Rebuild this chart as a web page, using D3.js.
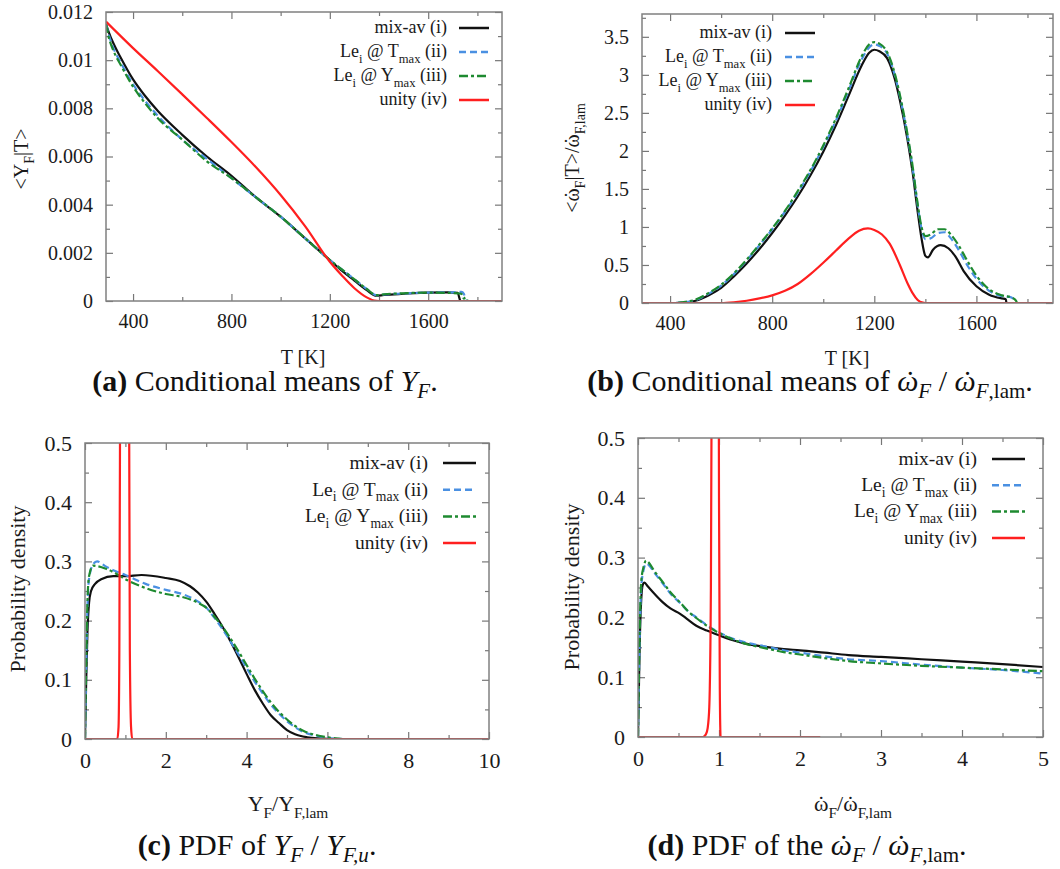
<!DOCTYPE html>
<html>
<head>
<meta charset="utf-8">
<script src="https://cdn.jsdelivr.net/npm/d3@7"></script>
<style>
  body { margin: 0; background: #fff; }
  svg, svg text { font-family: "Liberation Serif", "Times New Roman", serif; }
</style>
</head>
<body>
<svg id="fig" width="1060" height="869"></svg>
<script>
// ---- panel (a): <Y_F|T> vs T
var aMix = [[290,0.0115],[300,0.0112],[320,0.0107],[350,0.0101],[400,0.0092],[450,0.0085],[500,0.0079],[600,0.0069],[700,0.0060],[800,0.0052],[900,0.0043],[1000,0.0035],[1100,0.0026],[1200,0.0017],[1250,0.00125],[1300,0.00085],[1350,0.00045],[1390,0.00022],[1420,0.00025],[1500,0.0003],[1600,0.00035],[1680,0.00036],[1720,0.00034],[1726,0.00015],[1730,0]];
var aTmax = [[290,0.0115],[300,0.0111],[320,0.0105],[350,0.0099],[400,0.009],[450,0.0083],[500,0.0077],[600,0.0067],[700,0.0059],[800,0.0051],[900,0.0043],[1000,0.0035],[1100,0.0026],[1200,0.0017],[1250,0.0013],[1300,0.0009],[1350,0.0005],[1390,0.00024],[1420,0.00027],[1500,0.00031],[1600,0.00035],[1700,0.00036],[1735,0.00038],[1745,0.0003],[1750,0.0001],[1755,0]];
var aYmax = [[290,0.0115],[300,0.011],[320,0.0104],[350,0.0098],[400,0.0089],[450,0.0082],[500,0.0076],[600,0.0067],[700,0.0058],[800,0.0051],[900,0.0043],[1000,0.0035],[1100,0.0026],[1200,0.0017],[1250,0.0013],[1300,0.0009],[1350,0.0005],[1390,0.00024],[1420,0.00028],[1500,0.00032],[1600,0.00035],[1700,0.00033],[1735,0.0003],[1745,0.0001],[1752,0.00015],[1760,0]];
var aUnity = [[290,0.0116],[400,0.0105],[500,0.00955],[600,0.00858],[700,0.0076],[800,0.0066],[900,0.00555],[1000,0.0044],[1100,0.0031],[1200,0.00163],[1250,0.00105],[1300,0.00053],[1350,0.00015],[1380,0.00002],[1400,0],[1900,0]];

// ---- panel (b): <w_F|T>/w_F,lam vs T
var bMix = [[290,0],[420,0],[450,0.005],[500,0.03],[550,0.1],[600,0.2],[650,0.35],[700,0.52],[750,0.71],[800,0.92],[850,1.15],[900,1.4],[950,1.68],[1000,1.99],[1050,2.34],[1100,2.73],[1150,3.12],[1180,3.29],[1200,3.33],[1220,3.31],[1250,3.22],[1280,2.95],[1300,2.67],[1330,2.15],[1350,1.72],[1370,1.2],[1385,0.85],[1400,0.62],[1410,0.6],[1430,0.7],[1460,0.76],[1490,0.72],[1520,0.6],[1550,0.42],[1600,0.22],[1650,0.11],[1700,0.06],[1715,0.05],[1718,0],[1900,0]];
var bTmax = [[290,0],[420,0],[450,0.008],[500,0.04],[550,0.12],[600,0.23],[650,0.38],[700,0.56],[750,0.76],[800,0.97],[850,1.2],[900,1.45],[950,1.73],[1000,2.05],[1050,2.4],[1100,2.8],[1150,3.2],[1180,3.36],[1200,3.4],[1220,3.38],[1250,3.28],[1280,3.0],[1300,2.72],[1330,2.2],[1350,1.78],[1370,1.28],[1385,0.98],[1400,0.84],[1420,0.85],[1450,0.92],[1475,0.93],[1500,0.85],[1530,0.7],[1560,0.52],[1600,0.32],[1650,0.16],[1700,0.09],[1730,0.08],[1745,0.05],[1750,0],[1900,0]];
var bYmax = [[290,0],[420,0],[450,0.01],[500,0.045],[550,0.13],[600,0.24],[650,0.39],[700,0.57],[750,0.77],[800,0.98],[850,1.21],[900,1.47],[950,1.75],[1000,2.07],[1050,2.43],[1100,2.83],[1150,3.24],[1180,3.4],[1200,3.43],[1220,3.41],[1250,3.3],[1280,3.02],[1300,2.74],[1330,2.22],[1350,1.8],[1370,1.3],[1385,1.0],[1400,0.88],[1420,0.9],[1450,0.97],[1475,0.97],[1500,0.9],[1530,0.76],[1560,0.58],[1600,0.36],[1650,0.18],[1700,0.1],[1740,0.07],[1755,0.03],[1760,0],[1900,0]];
var bUnity = [[290,0],[600,0],[650,0.01],[700,0.03],[750,0.06],[800,0.1],[850,0.16],[900,0.25],[950,0.38],[1000,0.53],[1050,0.69],[1100,0.85],[1140,0.95],[1175,0.98],[1200,0.96],[1230,0.9],[1260,0.78],[1300,0.5],[1330,0.26],[1350,0.13],[1370,0.04],[1390,0.005],[1400,0],[1900,0]];

// ---- panel (c): PDF of Y_F/Y_F,lam
var cMix = [[0,0],[0.03,0.1],[0.06,0.18],[0.1,0.23],[0.15,0.25],[0.25,0.262],[0.4,0.27],[0.7,0.275],[1.0,0.275],[1.4,0.277],[2.0,0.272],[2.35,0.267],[2.6,0.258],[2.8,0.247],[3.0,0.232],[3.2,0.212],[3.4,0.19],[3.6,0.165],[3.8,0.138],[4.0,0.11],[4.2,0.083],[4.4,0.06],[4.6,0.04],[4.8,0.027],[5.0,0.015],[5.2,0.008],[5.5,0.003],[5.8,0.001],[6.2,0],[10,0]];
var cTmax = [[0,0],[0.03,0.12],[0.06,0.22],[0.1,0.27],[0.2,0.295],[0.3,0.3],[0.5,0.292],[0.7,0.285],[1.0,0.277],[1.5,0.262],[2.0,0.252],[2.4,0.245],[2.8,0.232],[3.0,0.222],[3.2,0.205],[3.4,0.186],[3.6,0.165],[3.8,0.143],[4.0,0.12],[4.2,0.097],[4.4,0.077],[4.6,0.058],[4.8,0.043],[5.0,0.03],[5.2,0.02],[5.4,0.012],[5.7,0.006],[6.0,0.002],[6.4,0],[10,0]];
var cYmax = [[0,0],[0.03,0.13],[0.06,0.23],[0.1,0.275],[0.2,0.293],[0.3,0.292],[0.5,0.288],[0.7,0.282],[1.0,0.27],[1.5,0.255],[2.0,0.245],[2.4,0.24],[2.8,0.23],[3.0,0.222],[3.2,0.207],[3.4,0.19],[3.6,0.17],[3.8,0.148],[4.0,0.125],[4.2,0.102],[4.4,0.081],[4.6,0.062],[4.8,0.046],[5.0,0.033],[5.2,0.022],[5.4,0.014],[5.7,0.007],[6.0,0.003],[6.4,0],[10,0]];
var cUnity = [[0,0],[0.8,0],[0.83,0.02],[0.85,0.15],[0.87,0.6],[0.95,3],[1.05,3],[1.09,0.6],[1.11,0.15],[1.14,0.02],[1.17,0],[10,0]];

// ---- panel (d): PDF of w_F/w_F,lam
var dMix = [[0,0],[0.02,0.15],[0.04,0.23],[0.06,0.255],[0.08,0.258],[0.12,0.252],[0.2,0.24],[0.3,0.226],[0.4,0.215],[0.52,0.206],[0.6,0.198],[0.72,0.186],[0.85,0.178],[1.0,0.17],[1.14,0.163],[1.3,0.157],[1.55,0.151],[1.8,0.147],[2.0,0.145],[2.3,0.141],[2.6,0.137],[3.0,0.134],[3.5,0.13],[4.0,0.126],[4.5,0.122],[5.0,0.117]];
var dTmax = [[0,0],[0.02,0.16],[0.04,0.25],[0.07,0.28],[0.1,0.29],[0.13,0.288],[0.2,0.275],[0.3,0.258],[0.4,0.24],[0.52,0.224],[0.62,0.21],[0.72,0.2],[0.85,0.187],[1.0,0.175],[1.14,0.166],[1.3,0.159],[1.55,0.152],[1.8,0.145],[2.0,0.141],[2.3,0.135],[2.6,0.13],[3.0,0.127],[3.5,0.121],[4.0,0.116],[4.5,0.112],[5.0,0.106]];
var dYmax = [[0,0],[0.02,0.17],[0.04,0.26],[0.07,0.285],[0.1,0.295],[0.13,0.292],[0.2,0.278],[0.3,0.26],[0.4,0.242],[0.52,0.225],[0.62,0.21],[0.72,0.199],[0.85,0.186],[1.0,0.174],[1.14,0.165],[1.3,0.157],[1.55,0.149],[1.8,0.142],[2.0,0.138],[2.3,0.132],[2.6,0.127],[3.0,0.123],[3.5,0.119],[4.0,0.116],[4.5,0.113],[5.0,0.11]];
var dUnity = [[0,0],[0.8,0],[0.84,0.005],[0.86,0.015],[0.88,0.05],[0.9,0.25],[0.92,1],[0.96,3],[0.99,1],[1.0,0.4],[1.01,0.08],[1.02,0],[2.25,0]];

// ---- ticks
var tMajor = [400,800,1200,1600], tMinor = [600,1000,1400,1800];
var aYMajor = [0,0.002,0.004,0.006,0.008,0.01,0.012], aYMinor = [0.001,0.003,0.005,0.007,0.009,0.011];
var bYMajor = [0,0.5,1,1.5,2,2.5,3,3.5], bYMinor = [0.25,0.75,1.25,1.75,2.25,2.75,3.25,3.75];
var cXMajor = [0,2,4,6,8,10], cXMinor = [1,3,5,7,9];
var dXMajor = [0,1,2,3,4,5], dXMinor = [0.5,1.5,2.5,3.5,4.5];
var pYMajor = [0,0.1,0.2,0.3,0.4,0.5], pYMinor = [0.05,0.15,0.25,0.35,0.45];

// ---- legend
var legendNames = [
  [["mix-av (i)",""]],
  [["Le",""],["i","s"],[" @ T",""],["max","s"],[" (ii)",""]],
  [["Le",""],["i","s"],[" @ Y",""],["max","s"],[" (iii)",""]],
  [["unity (iv)",""]]
];
var styles = [
  {color:"#111111", dash:null},
  {color:"#4a90e2", dash:"7,4"},
  {color:"#1e8a30", dash:"9,3,3,3"},
  {color:"#ff1f1f", dash:null}
];

var FONT = "Liberation Serif";
var svg = d3.select("#fig");

// flags: s = subscript, i = italic, b = bold, d = dot over the glyph
function rich(sel, parts, size, subShift) {
  var shift = 0, pending = 0;
  var ss = subShift || 0.3;
  parts.forEach(function(p) {
    var f = p[1];
    var sub = f.indexOf("s") >= 0;
    var fsz = sub ? size*0.7 : size;
    var target = sub ? size*ss : 0;
    var ts = sel.append("tspan")
      .attr("dy", target - shift)
      .attr("dx", pending || null)
      .attr("font-family", FONT)
      .attr("font-size", fsz)
      .attr("font-style", f.indexOf("i") >= 0 ? "italic" : null)
      .attr("font-weight", f.indexOf("b") >= 0 ? "bold" : null)
      .text(p[0]);
    pending = 0;
    shift = target;
    if (f.indexOf("d") >= 0) {
      var wg = ts.node().getComputedTextLength();
      var dot = sel.append("tspan").attr("font-family", FONT).attr("font-size", fsz).text("\u02d9");
      var wd = dot.node().getComputedTextLength();
      var slant = f.indexOf("i") >= 0 ? fsz*0.08 : 0;
      dot.attr("dx", -(wg/2 + wd/2) + slant).attr("dy", fsz*0.02);
      shift = target + fsz*0.02;
      pending = wg/2 - wd/2 - slant;
    }
  });
}

function panel(c) {
  var x = d3.scaleLinear().domain(c.xd).range([c.l, c.r]);
  var y = d3.scaleLinear().domain(c.yd).range([c.b, c.t]);
  var g = svg.append("g");
  var fmt = d3.format("~g");

  g.append("clipPath").attr("id", c.id).append("rect")
    .attr("x", c.l).attr("y", c.t).attr("width", c.r - c.l).attr("height", c.b - c.t);

  function axes(gen, tr, vals, size, labels) {
    var a = gen.tickValues(vals).tickSize(-size).tickPadding(labels ? c.pad : 0)
      .tickFormat(labels ? fmt : "");
    var ax = g.append("g").attr("transform", tr).call(a);
    ax.attr("font-family", FONT).attr("font-size", c.fs);
    ax.select(".domain").remove();
    ax.selectAll("line").attr("stroke", "#777").attr("stroke-width", 1.2);
    ax.selectAll("text").attr("font-family", FONT).attr("font-size", c.fs).attr("fill", "#1a1a1a");
  }
  axes(d3.axisBottom(x), "translate(0," + c.b + ")", c.xMajor, 7, true);
  axes(d3.axisBottom(x), "translate(0," + c.b + ")", c.xMinor, 4, false);
  axes(d3.axisTop(x), "translate(0," + c.t + ")", c.xMajor, 7, false);
  axes(d3.axisTop(x), "translate(0," + c.t + ")", c.xMinor, 4, false);
  axes(d3.axisLeft(y), "translate(" + c.l + ",0)", c.yMajor, 7, true);
  axes(d3.axisLeft(y), "translate(" + c.l + ",0)", c.yMinor, 4, false);
  axes(d3.axisRight(y), "translate(" + c.r + ",0)", c.yMajor, 7, false);
  axes(d3.axisRight(y), "translate(" + c.r + ",0)", c.yMinor, 4, false);

  var line = d3.line().x(function(d){ return x(d[0]); }).y(function(d){ return y(d[1]); })
    .curve(d3.curveMonotoneX);
  var plot = g.append("g").attr("clip-path", "url(#" + c.id + ")");
  c.series.forEach(function(s, i) {
    plot.append("path").datum(s)
      .attr("fill", "none")
      .attr("stroke", styles[i].color)
      .attr("stroke-width", 2.2)
      .attr("stroke-dasharray", styles[i].dash)
      .attr("d", line);
  });

  g.append("rect").attr("x", c.l).attr("y", c.t).attr("width", c.r - c.l).attr("height", c.b - c.t)
    .attr("fill", "none").attr("stroke", "#808080").attr("stroke-width", 1.5);

  // legend
  legendNames.forEach(function(parts, i) {
    var yy = c.leg.y + i * c.leg.dy;
    var t = g.append("text").attr("x", c.leg.tx).attr("y", yy + c.leg.fs*0.3)
      .attr("text-anchor", "end").attr("fill", "#1a1a1a");
    rich(t, parts, c.leg.fs);
    g.append("line").attr("x1", c.leg.x1).attr("x2", c.leg.x2).attr("y1", yy).attr("y2", yy)
      .attr("stroke", styles[i].color).attr("stroke-width", 2.5).attr("stroke-dasharray", styles[i].dash);
  });

  // axis labels
  var xl = g.append("text").attr("x", c.xl[0]).attr("y", c.xl[1]).attr("text-anchor", "middle").attr("fill", "#1a1a1a");
  rich(xl, c.xlab, c.lfs);
  var yl = g.append("text").attr("text-anchor", "middle").attr("fill", "#1a1a1a")
    .attr("transform", "translate(" + c.yl[0] + "," + c.yl[1] + ") rotate(-90)");
  rich(yl, c.ylab, c.lfs);

  var cap = g.append("text").attr("x", c.cap[0]).attr("y", c.cap[1]).attr("text-anchor", "middle").attr("fill", "#111");
  rich(cap, c.caption, 30, 0.22);
}

var W = "\u03c9";

panel({id:"ca", xd:[290,1900], yd:[0,0.012], l:106, r:502, t:12, b:301,
  xMajor:tMajor, xMinor:tMinor, yMajor:aYMajor, yMinor:aYMinor, fs:20, pad:13,
  series:[aMix,aTmax,aYmax,aUnity],
  leg:{tx:447, x1:459, x2:489, y:28, dy:24, fs:18},
  lfs:20, xl:[303,364], xlab:[["T [K]",""]],
  yl:[28,159], ylab:[["<Y",""],["F","s"],["|T>",""]],
  cap:[265,391], caption:[["(a)","b"],[" Conditional means of ",""],["Y","i"],["F","is"],[".",""]]});

panel({id:"cb", xd:[290,1900], yd:[0,3.8], l:642, r:1053, t:14, b:303,
  xMajor:tMajor, xMinor:tMinor, yMajor:bYMajor, yMinor:bYMinor, fs:20, pad:13,
  series:[bMix,bTmax,bYmax,bUnity],
  leg:{tx:772, x1:785, x2:815, y:33, dy:24, fs:18},
  lfs:20, xl:[847,365], xlab:[["T [K]",""]],
  yl:[579,158], ylab:[["<",""],[W,"d"],["F","s"],["|T>/",""],[W,"d"],["F,lam","s"]],
  cap:[810,391], caption:[["(b)","b"],[" Conditional means of ",""],[W,"id"],["F","is"],[" / ",""],[W,"id"],["F","is"],[",lam","s"],[".",""]]});

panel({id:"cc", xd:[0,10], yd:[0,0.5], l:85, r:489, t:443, b:739,
  xMajor:cXMajor, xMinor:cXMinor, yMajor:pYMajor, yMinor:pYMinor, fs:22, pad:13,
  series:[cMix,cTmax,cYmax,cUnity],
  leg:{tx:428, x1:443, x2:476, y:463, dy:26.7, fs:19.5},
  lfs:22, xl:[288,811], xlab:[["Y",""],["F","s"],["/Y",""],["F,lam","s"]],
  yl:[25,589], ylab:[["Probability density",""]],
  cap:[257,855], caption:[["(c)","b"],[" PDF of ",""],["Y","i"],["F","is"],[" / ",""],["Y","i"],["F,u","is"],[".",""]]});

panel({id:"cd", xd:[0,5], yd:[0,0.5], l:638, r:1043, t:438, b:737,
  xMajor:dXMajor, xMinor:dXMinor, yMajor:pYMajor, yMinor:pYMinor, fs:22, pad:13,
  series:[dMix,dTmax,dYmax,dUnity],
  leg:{tx:977, x1:992, x2:1025, y:459, dy:26.3, fs:19.5},
  lfs:22, xl:[853,811], xlab:[[W,"d"],["F","s"],["/",""],[W,"d"],["F,lam","s"]],
  yl:[579,587], ylab:[["Probability density",""]],
  cap:[807,855], caption:[["(d)","b"],[" PDF of the ",""],[W,"id"],["F","is"],[" / ",""],[W,"id"],["F","is"],[",lam","s"],[".",""]]});
</script>
</body>
</html>
